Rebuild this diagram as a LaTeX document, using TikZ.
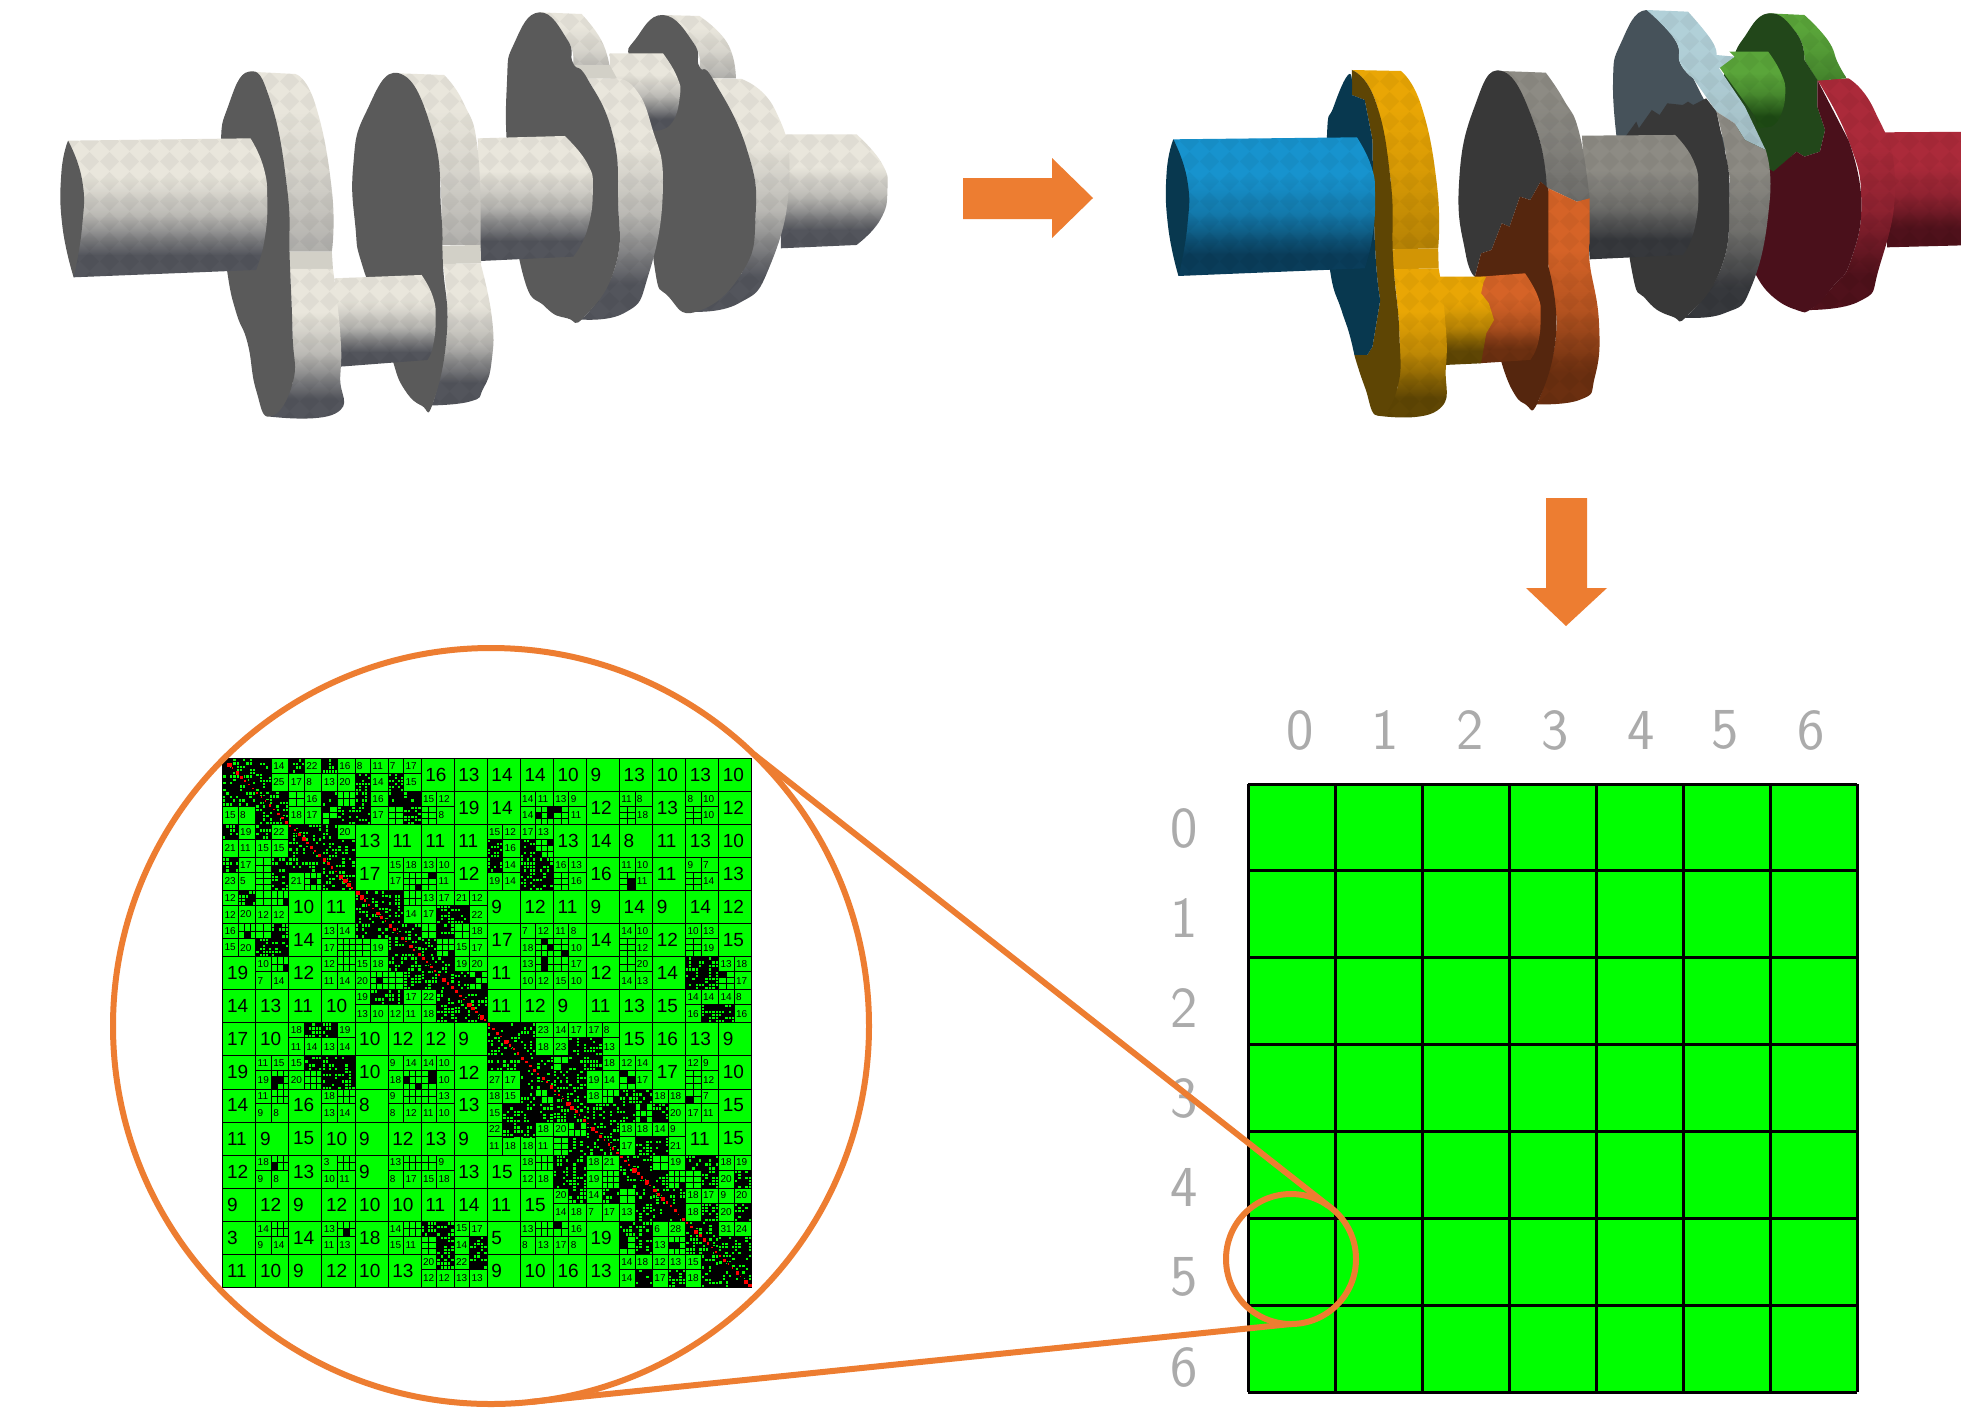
\documentclass[tikz,border=0pt]{standalone}
\usepackage{fontspec}
\usetikzlibrary{patterns}
\newfontfamily\mfont{Liberation Sans}
\definecolor{arrowor}{HTML}{ED7D31}
\definecolor{hgreen}{HTML}{00FF00}
\definecolor{lab}{HTML}{ABABAB}
\newcommand\mkshade[3]{%
 \definecolor{#1L}{HTML}{#2}\definecolor{#1D}{HTML}{#3}%
 \pgfdeclareverticalshading{#1S}{100bp}{color(0bp)=(#1D); color(33bp)=(#1D); color(47bp)=(#1L!68!#1D); color(61bp)=(#1L); color(100bp)=(#1L)}%
 \pgfdeclareverticalshading{#1U}{100bp}{color(0bp)=(#1L!62!#1D); color(25bp)=(#1L!62!#1D); color(47bp)=(#1L!88!#1D); color(65bp)=(#1L); color(100bp)=(#1L)}}
\mkshade{iv}{E9E6DC}{53555C}
\mkshade{bl}{1793CE}{0A3D5A}
\mkshade{go}{E9A605}{5F4604}
\mkshade{or}{D56327}{6B2F10}
\mkshade{gy}{8D8B84}{36383C}
\mkshade{lb}{B1D0D8}{8A9CA0}
\mkshade{gr}{5AA53A}{1E4A14}
\mkshade{rd}{AB2A3A}{4F111B}
\pgfdeclarepatternformonly{facet}{\pgfqpoint{0pt}{0pt}}{\pgfqpoint{20pt}{20pt}}{\pgfqpoint{20pt}{20pt}}{%
 \pgfpathmoveto{\pgfqpoint{10pt}{0pt}}\pgfpathlineto{\pgfqpoint{20pt}{10pt}}\pgfpathlineto{\pgfqpoint{10pt}{20pt}}\pgfpathlineto{\pgfqpoint{0pt}{10pt}}\pgfpathclose\pgfusepath{fill}}
\newcommand\Part[2]{\path[shading=#1] #2;\path[pattern=facet,pattern color=black,fill opacity=.04] #2;}
\tikzset{
 smc/.style={smooth,tension=.85},
 smcc/.style={smooth cycle,tension=.85},
 mline/.style={draw=black,line width=.8pt},
 mls/.style={anchor=west,inner sep=0pt,outer sep=0pt,font=\mfont\fontsize{10}{10}\selectfont},
 mlb/.style={anchor=west,inner sep=0pt,outer sep=0pt,font=\mfont\fontsize{19}{19}\selectfont},
 gridlab/.style={text=lab,inner sep=0pt,font=\sffamily\fontsize{58}{58}\selectfont},
 gline/.style={black,line width=3pt},
 zoomc/.style={circle,draw=arrowor,line width=6pt,inner sep=0pt,outer sep=0pt},
 zoomln/.style={draw=arrowor,line width=6pt}
}
\newcounter{ml}
\def\Xx{x}\def\Ss{s}
% c r w h probability cells-per-unit
\newcommand\Fgrid[6]{%
 \pgfmathtruncatemacro\nxx{max(1,round((#3)*#6))-1}%
 \pgfmathtruncatemacro\nyy{max(1,round((#4)*#6))-1}%
 \pgfmathsetmacro\dxx{(#3)/(\nxx+1)}\pgfmathsetmacro\dyy{(#4)/(\nyy+1)}%
 \foreach \i in {0,...,\nxx}{\foreach \j in {0,...,\nyy}{%
  \pgfmathtruncatemacro\hit{rnd<#5?1:0}%
  \ifnum\hit=1 \fill[black] ({#1+\i*\dxx},{#2+\j*\dyy}) rectangle ++(\dxx,\dyy);%
  \else \draw[black,line width=.7pt] ({#1+\i*\dxx},{#2+\j*\dyy}) rectangle ++(\dxx,\dyy);\fi}}}
\newcommand\Cell[5]{\def\tmpe{#5}%
 \ifx\tmpe\Xx \Fgrid{#1}{#2}{#3}{#4}{.58}{10}\else\ifx\tmpe\Ss \Fgrid{#1}{#2}{#3}{#4}{.1}{5}\else
 \stepcounter{ml}\node[mls] (ml\arabic{ml}) at ({#1+.06},{#2+#4/2}) {#5};\fi\fi
 \draw[mline] ({#1},{#2}) rectangle ++(#3,#4);}
\newcommand\U[3]{\stepcounter{ml}\node[mlb] (ml\arabic{ml}) at ({#1+.13},{#2+.5}) {#3};\draw[mline] (#1,#2) rectangle ++(1,1);}
\newcommand\Q[6]{\Cell{#1}{#2}{.47}{.45}{#3}\Cell{#1+.47}{#2}{.53}{.45}{#4}\Cell{#1}{#2+.45}{.47}{.55}{#5}\Cell{#1+.47}{#2+.45}{.53}{.55}{#6}}
\newcommand\D[1]{\Fgrid{#1}{#1}{1}{1}{.66}{10}\draw[mline] (#1,#1) rectangle ++(1,1);
 \foreach \t in {0,.125,...,.875}{\fill[black] ({#1+\t},{#1+\t}) rectangle ++(.14,.14);
  \pgfmathsetmacro\sz{.04+rnd*.1}\fill[red] ({#1+\t+.02},{#1+\t+.02}) rectangle ++(\sz,\sz);}}
\newcommand\URow[2]{\foreach \c/\v in {#2}{\U{\c}{#1}{\v}}}
\begin{document}
\begin{tikzpicture}[x=1pt,y=-1pt]
\useasboundingbox (0,0) rectangle (1961,1411);
\fill[white] (0,0) rectangle (1961,1411);
\pgfmathsetseed{7}
%% ---------- left crankshaft
\begin{scope}[shift={(40,0)},x=.5612pt,y=-.3333pt]
\definecolor{facei}{HTML}{5A5A5A}\definecolor{stripi}{HTML}{D2D0C7}
\Part{ivS}{(1320,403) -- plot[smc] coordinates{(1455,403)(1500,490)(1510,570)(1497,660)(1455,735)} -- (1320,745) -- cycle}
% disc 4
\Part{ivU}{(1110,45) -- plot[smc] coordinates{(1175,48)(1225,130)(1240,235)} -- (1180,235) -- plot[smc] coordinates{(1175,200)(1165,130)(1110,45)} -- cycle}
\Part{ivS}{(1200,235) -- plot[smc] coordinates{(1250,237)(1310,330)(1335,540)(1300,800)(1245,910)(1160,935)} -- plot[smc] coordinates{(1250,820)(1275,650)(1260,450)(1200,240)} -- cycle}
\fill[facei] plot[smcc] coordinates{(1110,45)(1165,130)(1175,200)(1200,240)(1260,450)(1275,650)(1250,820)(1170,935)(1120,890)(1095,800)(1085,500)(1075,235)(1050,170)(1060,120)};
\Part{ivS}{(1015,160) -- (1110,160) -- plot[smc] coordinates{(1110,160)(1135,230)(1140,290)(1125,370)(1095,392)} -- (1020,392) -- cycle}
% disc 3
\Part{ivU}{(890,37) -- plot[smc] coordinates{(965,42)(1000,120)(1015,200)} -- (1025,235) -- (965,235) -- plot[smc] coordinates{(950,190)(940,120)(890,37)} -- cycle}
\fill[stripi] (950,195) -- (1015,195) -- (1028,235) -- (968,235) -- cycle;
\Part{ivS}{(975,235) -- plot[smc] coordinates{(1025,235)(1060,265)(1090,380)(1110,560)(1085,820)(1040,940)(940,955)} -- plot[smc] coordinates{(970,950)(1025,800)(1030,600)(1020,400)(975,235)} -- cycle}
\fill[facei] plot[smcc] coordinates{(890,37)(940,120)(950,190)(975,235)(1020,400)(1030,600)(1025,800)(970,950)(940,955)(900,920)(860,820)(835,500)(832,250)(845,130)};
% middle shaft
\Part{ivS}{(780,415) -- (935,408) -- plot[smc] coordinates{(935,408)(975,490)(985,570)(975,690)(950,770)} -- (785,783) -- cycle}
% disc 2
\Part{ivU}{(640,220) -- plot[smc] coordinates{(720,225)(755,310)(780,450)(785,735)} -- (716,735) -- plot[smc] coordinates{(715,640)(700,400)(640,220)} -- cycle}
\fill[stripi] (716,737) -- (785,735) -- (786,790) -- (718,792) -- cycle;
\Part{ivS}{(718,792) -- plot[smc] coordinates{(785,790)(805,950)(805,1080)(790,1165)(765,1205)(680,1217)} -- plot[smc] coordinates{(700,1210)(725,1000)(718,792)} -- cycle}
\fill[facei] plot[smcc] coordinates{(640,220)(700,400)(715,640)(718,792)(725,1000)(700,1210)(680,1217)(650,1170)(630,1090)(620,1000)(575,800)(562,680)(558,500)(580,340)};
% lower shaft
\Part{ivS}{(525,835) -- (680,825) -- plot[smc] coordinates{(680,825)(700,890)(705,960)(700,1040)(690,1080)} -- (535,1100) -- cycle}
% disc 1
\Part{ivU}{(372,215) -- plot[smc] coordinates{(455,222)(490,310)(520,570)(520,755)} -- (443,755) -- plot[smc] coordinates{(440,560)(410,300)(372,215)} -- cycle}
\fill[stripi] (443,755) -- (520,755) -- (522,807) -- (445,807) -- cycle;
\Part{ivS}{(445,807) -- plot[smc] coordinates{(522,807)(535,1000)(535,1130)(527,1240)(410,1250)} -- plot[smc] coordinates{(450,1150)(450,1000)(445,807)} -- cycle}
\fill[facei] plot[smcc] coordinates{(372,215)(410,300)(440,560)(445,780)(450,1000)(450,1150)(410,1250)(385,1170)(370,1030)(350,940)(335,830)(328,700)(322,450)(335,320)};
% left shaft
\Part{ivS}{(50,422) -- (375,415) -- plot[smc] coordinates{(375,415)(398,500)(405,600)(400,720)(385,810)} -- (60,832) -- cycle}
\fill[facei] plot[smc] coordinates{(50,422)(38,520)(40,680)(60,832)} -- plot[smc] coordinates{(60,832)(75,680)(75,540)(50,422)} -- cycle;
\end{scope}
%% ---------- right crankshaft
\begin{scope}
\clip (1150,0) rectangle (1961,1411);
\begin{scope}[shift={(1150,0)},x=.5173pt,y=-.3333pt]
\definecolor{fbl}{HTML}{08384F}\definecolor{fgo}{HTML}{5E4504}\definecolor{for}{HTML}{55260E}
\definecolor{fgy}{HTML}{383838}\definecolor{flb}{HTML}{46525A}\definecolor{fgr}{HTML}{22471A}\definecolor{frd}{HTML}{4A101B}
% red shaft
\Part{rdS}{(1420,397) -- (1600,395) -- (1600,735) -- (1425,742) -- cycle}
% red disc
\Part{rdS}{(1290,240) -- plot[smc] coordinates{(1350,235)(1400,330)(1440,540)(1410,800)(1370,905)(1250,930)} -- plot[smc] coordinates{(1280,925)(1320,860)(1355,780)(1375,600)(1350,420)(1290,240)} -- cycle}
% green lobe
\Part{grU}{(1195,40) -- plot[smc] coordinates{(1265,45)(1310,120)(1330,190)(1347,235)} -- (1290,242) -- plot[smc] coordinates{(1265,180)(1250,100)(1195,40)} -- cycle}
\fill[fgr] plot[smc] coordinates{(1265,180)(1250,100)(1195,40)(1145,120)(1130,170)} -- (1100,250) -- (1170,520) -- (1205,520) -- (1250,455) -- (1265,470) -- (1295,455) -- (1305,390) -- (1290,320) -- (1290,240) -- cycle;
\fill[frd] (1205,515) -- (1250,455) -- (1265,470) -- (1295,455) -- (1305,390) -- (1290,320) -- (1290,240) -- plot[smc] coordinates{(1350,420)(1375,600)(1355,780)(1320,860)(1280,925)(1250,930)(1200,885)(1170,820)} -- (1190,500) -- cycle;
\Part{grS}{(1100,200) -- (1130,170) -- (1120,155) -- (1195,155) -- plot[smc] coordinates{(1195,155)(1220,220)(1228,280)(1218,350)(1200,380)} -- (1175,385) -- (1170,350) -- cycle}
% disc 3
\fill[flb] plot[smc] coordinates{(1050,235)(1025,190)(1015,120)(960,30)(910,130)(895,250)(905,450)} -- (1120,450) -- cycle;
\Part{lbU}{(960,30) -- plot[smc] coordinates{(1040,35)(1085,120)(1095,165)} -- (1130,170) -- (1100,205) -- (1110,228) -- plot[smc] coordinates{(1150,320)(1190,450)} -- (1150,420) -- (1130,370) -- (1095,335) -- plot[smc] coordinates{(1050,235)(1025,190)(1015,120)(960,30)} -- cycle}
\Part{gyS}{(1095,335) -- (1130,370) -- (1150,420) -- plot[smc] coordinates{(1190,450)(1198,600)(1165,850)(1110,940)(1010,950)} -- plot[smc] coordinates{(1040,945)(1105,800)(1120,600)(1115,480)(1095,335)} -- cycle}
\fill[fgy] (905,440) -- (940,365) -- (945,385) -- (970,330) -- (985,345) -- (1000,310) -- (1030,315) -- (1040,305) -- (1050,315) -- (1075,295) -- (1095,335) -- plot[smc] coordinates{(1115,480)(1120,600)(1105,800)(1040,945)(1010,950)(960,900)(930,800)(905,440)} -- cycle;
% gray shaft
\Part{gyS}{(835,407) -- (1015,405) -- plot[smc] coordinates{(1015,405)(1050,480)(1060,570)(1052,690)(1030,765)} -- (850,778) -- cycle}
% disc 2
\Part{gyU}{(680,213) -- plot[smc] coordinates{(765,218)(800,300)(830,400)(850,600)} -- (825,605) -- (770,565) -- plot[smc] coordinates{(765,560)(745,380)(680,213)} -- cycle}
\fill[fgy] plot[smc] coordinates{(767,565)(745,380)(680,213)(625,330)(597,560)(610,760)(628,830)} -- (640,760) -- (660,750) -- (680,670) -- (695,680) -- (715,590) -- (735,600) -- (755,545) -- cycle;
\Part{orS}{(770,565) -- (825,605) -- (850,595) -- plot[smc] coordinates{(850,730)(850,790)(868,970)(860,1130)(830,1200)(725,1212)} -- plot[smc] coordinates{(750,1205)(785,1000)(770,800)(770,565)} -- cycle}
\fill[for] (628,830) -- (640,760) -- (660,750) -- (680,670) -- (695,680) -- (715,590) -- (735,600) -- (755,545) -- (770,565) -- plot[smc] coordinates{(770,800)(785,1000)(750,1205)(725,1212)(700,1170)(680,1090)} -- cycle;
% lower shaft
\Part{orS}{(640,830) -- (725,820) -- plot[smc] coordinates{(725,820)(750,890)(755,950)(750,1030)(735,1080)} -- (635,1090) -- cycle}
\Part{goS}{(560,830) -- (650,830) -- (645,845) -- (640,880) -- (655,910) -- (665,960) -- (650,1000) -- (640,1090) -- (570,1095) -- cycle}
% disc 1
\Part{goU}{(390,210) -- plot[smc] coordinates{(485,213)(525,320)(555,560)(557,745)} -- (468,748) -- plot[smc] coordinates{(465,540)(435,300)(390,210)} -- cycle}
\fill[goL!90!black] (468,748) -- (557,745) -- (558,805) -- (470,808) -- cycle;
\Part{goS}{(470,808) -- plot[smc] coordinates{(558,805)(570,950)(572,1100)(555,1232)(440,1247)} -- plot[smc] coordinates{(478,1165)(482,1000)(470,808)} -- cycle}
\fill[fgo] plot[smc] coordinates{(395,1065)(415,1160)(440,1247)(478,1165)(482,1000)(470,780)(465,540)(435,300)(390,210)} -- (390,285) -- (415,300) -- plot[smc] coordinates{(430,420)(435,740)(445,900)} -- (430,1040) -- (420,1065) -- cycle;
\fill[fbl] plot[smc] coordinates{(390,285)(385,222)(355,320)(342,410)(345,700)(350,830)(370,930)(385,1000)(395,1065)} -- (420,1065) -- (430,1040) -- plot[smc] coordinates{(445,900)(435,740)(430,420)} -- (415,300) -- cycle;
% blue shaft
\Part{blS}{(45,418) -- (400,412) -- plot[smc] coordinates{(400,412)(428,500)(435,590)(430,710)(415,805)} -- (55,828) -- cycle}
\fill[fbl] plot[smc] coordinates{(45,418)(32,520)(35,680)(55,828)} -- plot[smc] coordinates{(55,828)(72,680)(72,540)(45,418)} -- cycle;
\end{scope}
\end{scope}
%% ---------- orange block arrows
\fill[arrowor] (963,178) -- (1052,178) -- (1052,158) -- (1093,198) -- (1052,238) -- (1052,219) -- (963,219) -- cycle;
\fill[arrowor] (1546,498) -- (1587,498) -- (1587,588) -- (1607,588) -- (1566,626) -- (1526,588) -- (1546,588) -- cycle;
%% ---------- block matrix: right
\fill[hgreen] (1248,784) rectangle (1857,1392);
\foreach \k in {0,...,7}{
 \draw[gline] ({1248+\k*87},784) -- ({1248+\k*87},1392);
 \draw[gline] (1248,{784+\k*86.86}) -- (1857,{784+\k*86.86});}
\foreach \n/\xx in {0/1300,1/1385,2/1470,3/1555,4/1641,5/1725,6/1811}{
 \node[gridlab] (col\n) at (\xx,730) {\n};}
\foreach \n/\yy in {0/828,1/918,2/1008,3/1098,4/1187,5/1277,6/1367}{
 \node[gridlab] (row\n) at (1184,\yy) {\n};}
%% ---------- H-matrix
\fill[hgreen] (222.7,758.3) rectangle (751.7,1287.3);
\begin{scope}[shift={(222.7,758.3)},x=33.06pt,y=-33.06pt]
% row 0
\D{0}\Q{1}{0}{x}{14}{x}{25}\Q{2}{0}{x}{22}{17}{8}\Q{3}{0}{x}{16}{13}{20}\Q{4}{0}{8}{11}{x}{14}\Q{5}{0}{7}{17}{x}{15}
\URow{0}{6/16,7/13,8/14,9/14,10/10,11/9,12/13,13/10,14/13,15/10}
% row 1
\Q{0}{1}{x}{x}{15}{8}\D{1}\Q{2}{1}{s}{16}{18}{17}\Q{3}{1}{x}{s}{s}{x}\Q{4}{1}{x}{16}{x}{17}\Q{5}{1}{x}{x}{s}{x}\Q{6}{1}{15}{12}{s}{8}
\URow{1}{7/19,8/14,11/12,13/13,15/12}
\Q{9}{1}{14}{11}{14}{s}\Q{10}{1}{13}{9}{s}{11}\Q{12}{1}{11}{8}{s}{18}\Q{14}{1}{8}{10}{s}{10}
% row 2
\Q{0}{2}{x}{19}{21}{11}\Q{1}{2}{x}{22}{15}{15}\D{2}\Q{3}{2}{x}{20}{x}{x}
\URow{2}{4/13,5/11,6/11,7/11,10/13,11/14,12/8,13/11,14/13,15/10}
\Q{8}{2}{15}{12}{x}{16}\Q{9}{2}{17}{13}{x}{s}
% row 3
\Q{0}{3}{x}{17}{23}{5}\Q{1}{3}{s}{x}{s}{x}\Q{2}{3}{x}{x}{21}{s}\D{3}
\URow{3}{4/17,7/12,11/16,13/11,15/13}
\Q{5}{3}{15}{18}{17}{s}\Q{6}{3}{13}{10}{s}{11}\Q{8}{3}{x}{14}{19}{14}\Q{9}{3}{x}{x}{x}{x}\Q{10}{3}{16}{13}{s}{16}\Q{12}{3}{11}{10}{s}{11}\Q{14}{3}{9}{7}{s}{14}
% row 4
\Q{0}{4}{12}{x}{12}{20}\Q{1}{4}{s}{s}{12}{12}\D{4}\Q{5}{4}{x}{s}{x}{14}\Q{6}{4}{13}{17}{17}{x}\Q{7}{4}{21}{12}{x}{22}
\URow{4}{2/10,3/11,8/9,9/12,10/11,11/9,12/14,13/9,14/14,15/12}
% row 5
\Q{0}{5}{16}{s}{15}{20}\Q{1}{5}{s}{x}{x}{x}\Q{3}{5}{13}{14}{17}{s}\Q{4}{5}{x}{x}{s}{19}\D{5}\Q{6}{5}{s}{x}{x}{s}\Q{7}{5}{s}{18}{15}{17}
\URow{5}{2/14,8/17,11/14,13/12,15/15}
\Q{9}{5}{7}{12}{18}{s}\Q{10}{5}{11}{8}{s}{10}\Q{12}{5}{14}{10}{s}{12}\Q{14}{5}{10}{13}{s}{19}
% row 6
\Q{1}{6}{10}{s}{7}{14}\Q{3}{6}{12}{s}{11}{14}\Q{4}{6}{15}{18}{20}{s}\Q{5}{6}{x}{x}{s}{x}\D{6}\Q{7}{6}{19}{20}{x}{s}
\URow{6}{0/19,2/12,8/11,11/12,13/14}
\Q{9}{6}{13}{s}{10}{12}\Q{10}{6}{s}{17}{15}{10}\Q{12}{6}{s}{20}{14}{13}\Q{14}{6}{x}{x}{x}{x}\Q{15}{6}{13}{18}{s}{17}
% row 7
\URow{7}{0/14,1/13,2/11,3/10,8/11,9/12,10/9,11/11,12/13,13/15}
\Q{4}{7}{19}{x}{13}{10}\Q{5}{7}{x}{17}{12}{11}\Q{6}{7}{22}{x}{18}{x}\D{7}\Q{14}{7}{14}{14}{16}{x}\Q{15}{7}{14}{8}{x}{16}
% row 8
\URow{8}{0/17,1/10,4/10,5/12,6/12,7/9,12/15,13/16,14/13,15/9}
\Q{2}{8}{18}{x}{11}{14}\Q{3}{8}{x}{19}{13}{14}\D{8}\Q{9}{8}{x}{23}{x}{18}\Q{10}{8}{14}{17}{23}{x}\Q{11}{8}{17}{8}{x}{13}
% row 9
\URow{9}{0/19,4/10,7/12,13/17,15/10}
\Q{1}{9}{11}{15}{19}{s}\Q{2}{9}{15}{x}{20}{s}\Q{3}{9}{x}{x}{x}{x}\Q{5}{9}{9}{14}{18}{s}\Q{6}{9}{14}{10}{s}{10}\Q{8}{9}{x}{x}{27}{17}\D{9}\Q{10}{9}{s}{x}{x}{x}\Q{11}{9}{x}{18}{19}{14}\Q{12}{9}{12}{14}{s}{17}\Q{14}{9}{12}{9}{s}{12}
% row 10
\URow{10}{0/14,2/16,4/8,7/13,15/15}
\Q{1}{10}{11}{s}{9}{8}\Q{3}{10}{18}{s}{13}{14}\Q{5}{10}{9}{s}{8}{12}\Q{6}{10}{s}{13}{11}{10}\Q{8}{10}{18}{15}{15}{x}\Q{9}{10}{x}{s}{x}{x}\D{10}\Q{11}{10}{18}{s}{x}{x}\Q{12}{10}{x}{x}{x}{s}\Q{13}{10}{18}{18}{x}{20}\Q{14}{10}{s}{7}{17}{11}
% row 11
\URow{11}{0/11,1/9,2/15,3/10,4/9,5/12,6/13,7/9,14/11,15/15}
\Q{8}{11}{22}{x}{11}{18}\Q{9}{11}{x}{18}{18}{11}\Q{10}{11}{20}{s}{s}{x}\D{11}\Q{12}{11}{18}{18}{17}{x}\Q{13}{11}{14}{9}{x}{21}
% row 12
\URow{12}{0/12,2/13,4/9,7/13,8/15}
\Q{1}{12}{18}{s}{9}{8}\Q{3}{12}{3}{s}{10}{11}\Q{5}{12}{13}{s}{8}{17}\Q{6}{12}{s}{9}{15}{18}\Q{9}{12}{18}{s}{12}{18}\Q{10}{12}{x}{x}{x}{x}\Q{11}{12}{18}{21}{19}{s}\D{12}\Q{13}{12}{s}{19}{x}{s}\Q{14}{12}{x}{x}{s}{x}\Q{15}{12}{18}{19}{20}{x}
% row 13
\URow{13}{0/9,1/12,2/9,3/12,4/10,5/10,6/11,7/14,8/11,9/15}
\Q{10}{13}{20}{x}{14}{18}\Q{11}{13}{14}{x}{7}{17}\Q{12}{13}{s}{x}{13}{x}\D{13}\Q{14}{13}{18}{17}{18}{x}\Q{15}{13}{9}{20}{20}{x}
% row 14
\URow{14}{0/3,2/14,4/18,8/5,11/19}
\Q{1}{14}{14}{s}{9}{14}\Q{3}{14}{13}{s}{11}{13}\Q{5}{14}{14}{s}{15}{11}\Q{6}{14}{x}{x}{s}{x}\Q{7}{14}{15}{17}{14}{x}\Q{9}{14}{13}{s}{8}{13}\Q{10}{14}{s}{16}{17}{8}\Q{12}{14}{x}{x}{s}{x}\Q{13}{14}{6}{28}{13}{s}\D{14}\Q{15}{14}{31}{24}{x}{x}
% row 15
\URow{15}{0/11,1/10,2/9,3/12,4/10,5/13,8/9,9/10,10/16,11/13}
\Q{6}{15}{20}{x}{12}{12}\Q{7}{15}{22}{x}{13}{13}\Q{12}{15}{14}{18}{14}{x}\Q{13}{15}{12}{13}{17}{x}\Q{14}{15}{15}{x}{18}{x}\D{15}
\end{scope}
%% ---------- zoom circles and connectors
\node[zoomc,minimum size=756pt] (bigc) at (491,1026) {};
\node[zoomc,minimum size=130pt] (smallc) at (1291,1259) {};
\draw[zoomln] (bigc.46) -- (smallc.55);
\draw[zoomln] (bigc.-84) -- (smallc.-90);
\end{tikzpicture}
\end{document}
